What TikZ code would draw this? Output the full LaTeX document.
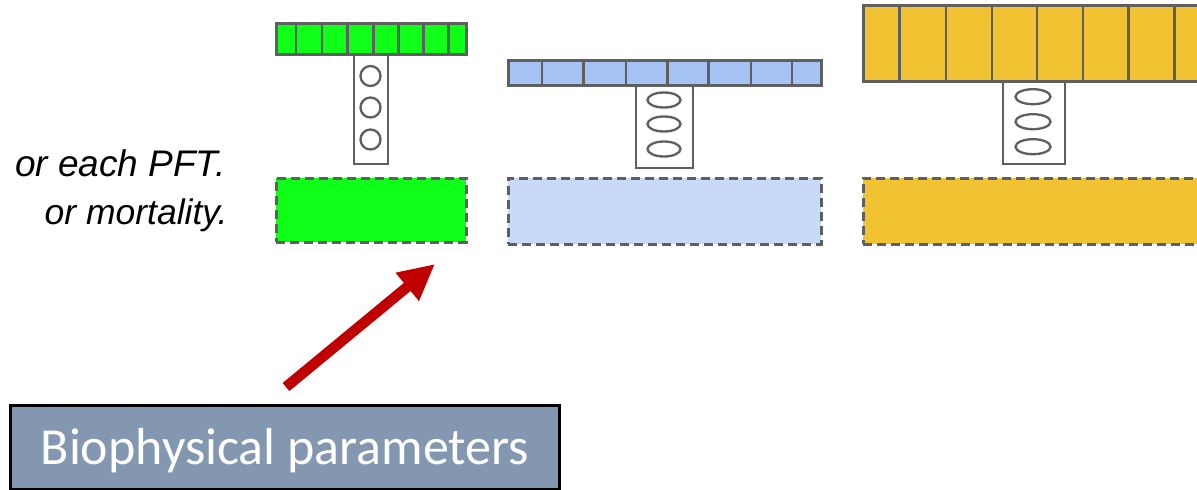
\documentclass[tikz,border=0pt]{standalone}
\usepackage{fontspec}
\setmainfont{Liberation Sans}
\newfontfamily\calibrifont{Carlito}
\usetikzlibrary{arrows.meta,shapes.geometric}
\definecolor{edgegray}{HTML}{5F5F5F}
\definecolor{ggreen}{HTML}{10FF18}
\definecolor{bbar}{HTML}{A4C2F4}
\definecolor{bbox}{HTML}{C9DAF8}
\definecolor{yfill}{HTML}{F1C232}
\definecolor{boxblue}{HTML}{8497B0}
\definecolor{arrowred}{HTML}{C00000}
\begin{document}
\begin{tikzpicture}[x=1pt,y=-1pt,
  cellbar/.style={draw=edgegray, line width=2.6pt, inner sep=0pt, anchor=north west},
  divider/.style={draw=edgegray, line width=2.4pt},
  stembox/.style={draw=edgegray, fill=white, line width=2.4pt, inner sep=0pt, anchor=north west},
  ring/.style={draw=edgegray, line width=2.3pt, circle, inner sep=0pt, minimum size=20pt},
  oval/.style={draw=edgegray, line width=2.3pt, ellipse, inner sep=0pt},
  dashbox/.style={draw=edgegray, line width=2.6pt, dash pattern=on 9pt off 5pt, inner sep=0pt, anchor=north west},
  sidetext/.style={anchor=base east, font=\itshape\fontsize{#1}{40}\selectfont},
  parambox/.style={draw=black, line width=3pt, fill=boxblue, inner sep=0pt, anchor=north west, text=white,
    font=\calibrifont\fontsize{52}{60}\selectfont, text height=34pt, text depth=0pt},
  redarrow/.style={draw=arrowred, line width=10.5pt, -{Triangle[length=36pt,width=34pt]}}
]
\useasboundingbox (0,0) rectangle (1197,490);

% side text
\node[sidetext=37] (t1) at (229,176) {or each PFT.};
\node[sidetext=35.5] (t2) at (231,224) {or mortality.};

% ---- green group ----
\node[stembox, minimum width=34pt, minimum height=110pt] (gstem) at (353,53) {};
\node[cellbar, fill=ggreen, minimum width=190pt, minimum height=31pt] (gbar) at (275,22) {};
\foreach \x in {296,321.7,347.3,373.3,398.3,423.3,448.3}
  \draw[divider] (\x,22) -- (\x,53);
\node[ring] (gc1) at (370.5,76) {};
\node[ring] (gc2) at (370.5,107.5) {};
\node[ring] (gc3) at (370.5,139.5) {};
\node[dashbox, fill=ggreen, minimum width=190pt, minimum height=64pt] (gbox) at (275,177) {};

% ---- blue group ----
\node[stembox, minimum width=57pt, minimum height=83pt] (bstem) at (635,84) {};
\node[cellbar, fill=bbar, minimum width=313pt, minimum height=25pt] (bbarn) at (507,59) {};
\foreach \x in {541.7,583.3,625.7,667.3,708.3,750.7,791.7}
  \draw[divider] (\x,59) -- (\x,84);
\node[oval, minimum width=33pt, minimum height=15pt] (bo1) at (664,100) {};
\node[oval, minimum width=33pt, minimum height=15pt] (bo2) at (664,124) {};
\node[oval, minimum width=33pt, minimum height=15pt] (bo3) at (664,149) {};
\node[dashbox, fill=bbox, minimum width=313pt, minimum height=66pt] (bboxn) at (507,177) {};

% ---- yellow group ----
\node[stembox, minimum width=62pt, minimum height=83pt] (ystem) at (1002,80) {};
\node[cellbar, fill=yfill, minimum width=370pt, minimum height=76pt] (ybar) at (862,4) {};
\foreach \x in {899.3,945.7,991.7,1036.7,1082.7,1128.3,1174.3}
  \draw[divider] (\x,4) -- (\x,82);
\node[oval, minimum width=35pt, minimum height=15pt] (yo1) at (1033,96.7) {};
\node[oval, minimum width=35pt, minimum height=15pt] (yo2) at (1033,121.7) {};
\node[oval, minimum width=35pt, minimum height=15pt] (yo3) at (1033,146.7) {};
\node[dashbox, fill=yfill, minimum width=370pt, minimum height=66pt] (ybox) at (862,177) {};

% ---- parameter box and arrow ----
\node[parambox, minimum width=549pt, minimum height=84pt] (bp) at (9,404) {Biophysical parameters};
\coordinate (atail) at (286,387);
\coordinate (ahead) at (435,264);
\draw[redarrow] (atail) -- (ahead);
\end{tikzpicture}
\end{document}
